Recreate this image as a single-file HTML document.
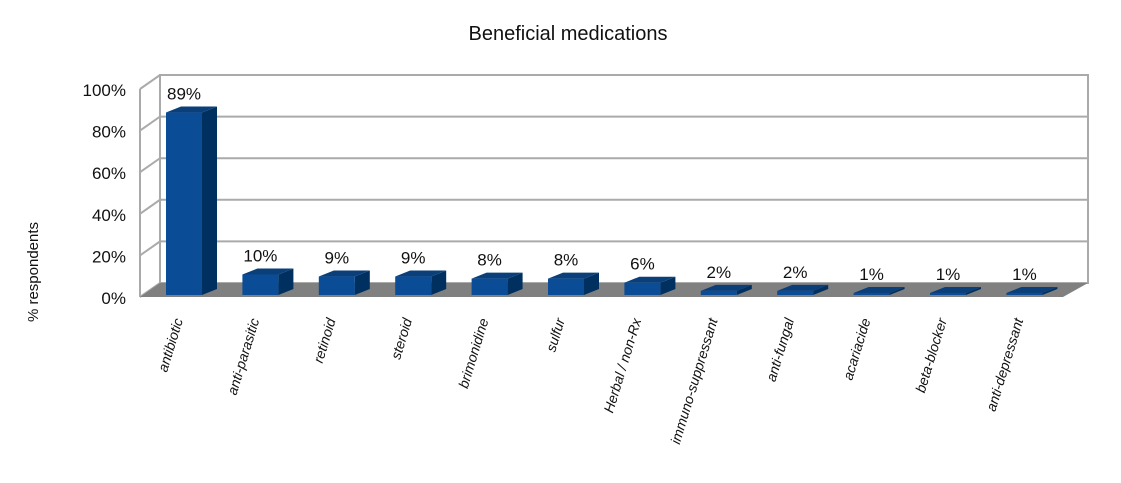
<!DOCTYPE html>
<html><head><meta charset="utf-8"><style>
body{margin:0;background:#fff;}
svg{font-family:"Liberation Sans",Arial,sans-serif;}
</style></head><body>
<svg id="c" width="1121" height="478">
<text x="568" y="40" font-size="20" text-anchor="middle" fill="#111">Beneficial medications</text>
<text transform="translate(38,272) rotate(-90)" font-size="15" text-anchor="middle" fill="#111">% respondents</text>
<g id="g"></g>
</svg>
<script>
const categories=["antibiotic","anti-parasitic","retinoid","steroid","brimonidine","sulfur","Herbal / non-Rx","immuno-suppressant","anti-fungal","acariacide","beta-blocker","anti-depressant"];
const values=[89,10,9,9,8,8,6,2,2,1,1,1];
const valueLabels=["89%","10%","9%","9%","8%","8%","6%","2%","2%","1%","1%","1%"];
const ticks=[0,20,40,60,80,100];
const tickLabels=["0%","20%","40%","60%","80%","100%"];
const NS="http://www.w3.org/2000/svg",g=document.getElementById('g');
function mk(t,a,p){const e=document.createElementNS(NS,t);for(const k in a)e.setAttribute(k,a[k]);(p||g).appendChild(e);return e;}
const fx0=140,fy0=297,bx0=160,by0=283,bx1=1088,fx1=1063,H=208;
const yBack=v=>by0-v/100*H, yFront=v=>fy0-v/100*H;
let e=mk('polygon',{points:`${bx0},${yBack(100)} ${bx1},${yBack(100)} ${bx1},${by0} ${bx0},${by0}`,fill:'#fff',stroke:'#aaa','stroke-width':2});

ticks.forEach((t,i)=>{
 let l=mk('polyline',{points:`${fx0},${yFront(t)} ${bx0},${yBack(t)} ${bx1},${yBack(t)}`,fill:'none',stroke:'#aaa','stroke-width':2});
 
 let tx=mk('text',{x:126,y:yFront(t)+7,'font-size':17,'text-anchor':'end',fill:'#111'});tx.textContent=tickLabels[i];
 
});
let s=mk('line',{x1:fx0,y1:yFront(0),x2:fx0,y2:yFront(100),stroke:'#aaa','stroke-width':2});

let fl=mk('polygon',{points:`${fx0},${fy0} ${bx0},${by0} ${bx1},${by0} ${fx1},${fy0}`,fill:'#808080'});

const step=76.4,x0=184,w=36,dx=15,dy=6,base=295,sc=2.05;
categories.forEach((c,i)=>{
 const cx=x0+i*step,l=cx-w/2,r=cx+w/2,h=values[i]*sc,t=base-h;
 const bg=mk('g',{});
 
 mk('polygon',{points:`${r},${base} ${r+dx},${base-dy} ${r+dx},${t-dy} ${r},${t}`,fill:'#00305f'},bg);
 mk('polygon',{points:`${l},${t} ${l+dx},${t-dy} ${r+dx},${t-dy} ${r},${t}`,fill:'#0a3f7a'},bg);
 mk('rect',{x:l,y:t,width:w,height:h,fill:'#0b4c96'},bg);
 let vl=mk('text',{x:cx,y:t-13,'font-size':17,'text-anchor':'middle',fill:'#111'});vl.textContent=valueLabels[i];
 
 let cl=mk('text',{transform:`translate(${cx-1},320) rotate(-73)`,'font-size':14,'font-style':'italic','text-anchor':'end',fill:'#111'});cl.textContent=c;
 
});
</script>
</body></html>
